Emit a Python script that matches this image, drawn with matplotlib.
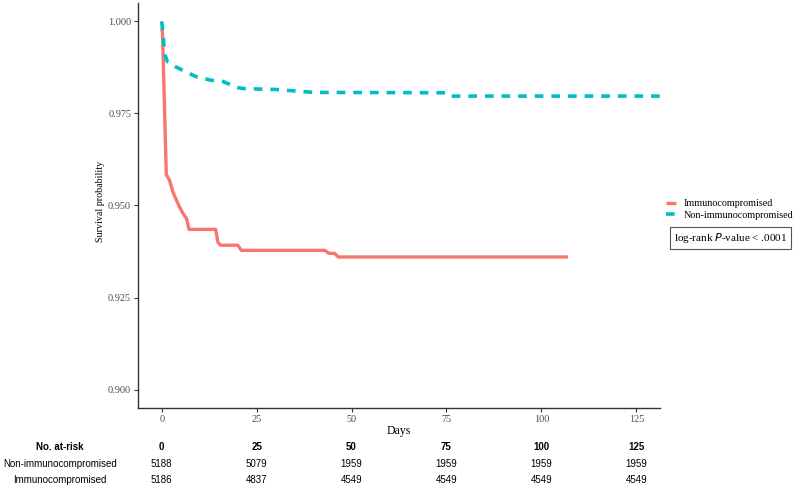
import numpy as np
import matplotlib.pyplot as plt
import matplotlib.transforms as mtransforms

# Kaplan-Meier curves
immuno_t = [0, 0.2, 1.2, 2.0, 3.0, 4.5, 5.5, 6.5, 7.2, 14.2, 14.8, 15.5, 20.0, 21.0, 43.0, 44.0, 45.5, 46.5, 107]
immuno_s = [0.998, 0.997, 0.9584, 0.957, 0.9535, 0.950, 0.948, 0.9465, 0.9435, 0.9435, 0.940, 0.9392, 0.9392, 0.9378,
            0.9378, 0.937, 0.937, 0.936, 0.936]
nonimm_t = [0, 0.3, 0.8, 1.5, 3, 5.5, 9, 13, 16, 20, 22, 30, 40, 75, 76, 131.25]
nonimm_s = [1.0, 0.997, 0.991, 0.989, 0.988, 0.9867, 0.985, 0.984, 0.9837, 0.982, 0.9817, 0.9815, 0.9807, 0.9806,
            0.9797, 0.9797]

risk_times = [0, 25, 50, 75, 100, 125]
risk_nonimm = [5188, 5079, 1959, 1959, 1959, 1959]
risk_immuno = [5186, 4837, 4549, 4549, 4549, 4549]

red = '#F8766D'
teal = '#00BFC4'
serif = 'Liberation Serif'
sans = 'Liberation Sans'

fig = plt.figure(figsize=(8, 4.88), dpi=100)
ax = fig.add_axes([0.1725, 0.164, 0.6525, 0.830])

ax.plot(immuno_t, immuno_s, color=red, lw=2.4, label='Immunocompromised', solid_capstyle='butt')
ax.plot(nonimm_t, nonimm_s, color=teal, lw=2.6, dashes=(2.4, 2.2), label='Non-immunocompromised')

ax.set_xlim(-6.25, 131.25)
ax.set_ylim(0.895, 1.005)
ax.set_xticks(risk_times)
ax.set_yticks([0.900, 0.925, 0.950, 0.975, 1.000])
ax.set_yticklabels(['0.900', '0.925', '0.950', '0.975', '1.000'])
for s in ['top', 'right']:
    ax.spines[s].set_visible(False)
for s in ['left', 'bottom']:
    ax.spines[s].set_color('#333333')
    ax.spines[s].set_linewidth(1.0)
ax.tick_params(length=3, width=0.8, color='#333333', labelsize=7.4, labelcolor='#4d4d4d', pad=2)
for lab in ax.get_xticklabels() + ax.get_yticklabels():
    lab.set_fontfamily(serif)

ax.set_xlabel('Days', fontfamily=serif, fontsize=8.5, labelpad=1)
ax.set_ylabel('Survival probability', fontfamily=serif, fontsize=7.2)
ax.yaxis.set_label_coords(-0.063, 0.51)

leg = ax.legend(loc='center left', bbox_to_anchor=(1.012, 0.49), frameon=False,
                prop={'family': serif, 'size': 7.3}, handlelength=1.0, handletextpad=0.7,
                labelspacing=0.25, borderaxespad=0, borderpad=0)

fig.text(0.8425, 0.512, 'log-rank $\\it{P}$-value < .0001', fontfamily=serif, fontsize=8,
         va='center', ha='left',
         bbox=dict(boxstyle='square,pad=0.35', fc='white', ec='#555555', lw=0.8))

# risk table
trans = mtransforms.blended_transform_factory(ax.transData, fig.transFigure)
rows_y = [0.084, 0.049, 0.016]
fig.text(0.075, rows_y[0], 'No. at-risk', fontfamily=sans, fontsize=7, fontweight='bold', ha='center', va='center')
fig.text(0.075, rows_y[1], 'Non-immunocompromised', fontfamily=sans, fontsize=7, ha='center', va='center')
fig.text(0.075, rows_y[2], 'Immunocompromised', fontfamily=sans, fontsize=7, ha='center', va='center')
for i, t in enumerate(risk_times):
    ax.text(t, rows_y[0], str(t), transform=trans, fontfamily=sans, fontsize=7, fontweight='bold',
            ha='center', va='center', clip_on=False)
    ax.text(t, rows_y[1], str(risk_nonimm[i]), transform=trans, fontfamily=sans, fontsize=7,
            ha='center', va='center', clip_on=False)
    ax.text(t, rows_y[2], str(risk_immuno[i]), transform=trans, fontfamily=sans, fontsize=7,
            ha='center', va='center', clip_on=False)

fig.savefig('out.png', dpi=100)
